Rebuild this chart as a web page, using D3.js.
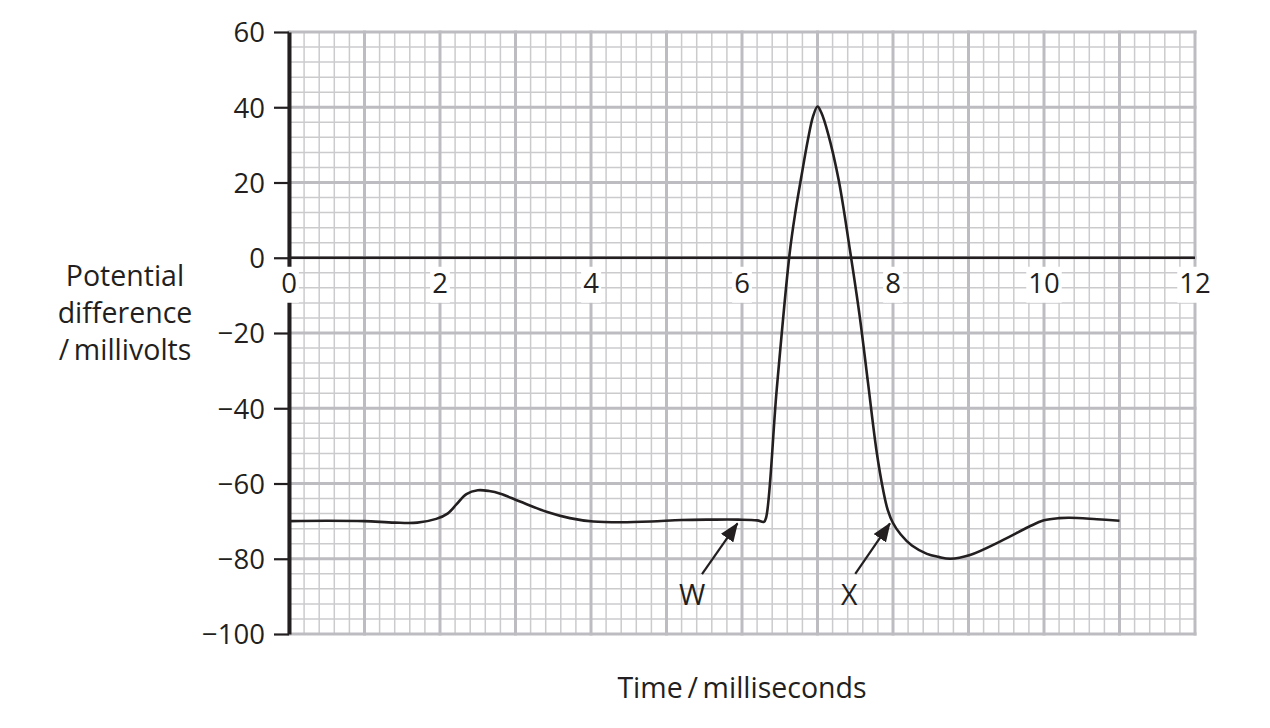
<!DOCTYPE html>
<html>
<head>
<meta charset="utf-8">
<script src="https://cdn.jsdelivr.net/npm/d3@7"></script>
<style>
  html, body { margin: 0; padding: 0; background: #fff; }
  svg { display: block; }
  text { font-family: "Open Sans", "Noto Sans", sans-serif; fill: #231f20; }
</style>
</head>
<body>
<svg id="chart" width="1270" height="728"></svg>
<script>
// ---- data ----
const timeMs = [0, 0.5, 1.0, 1.4, 1.7, 1.95, 2.1, 2.22, 2.35, 2.5, 2.65, 2.8, 3.06, 3.41, 3.72, 4.03, 4.4, 4.8, 5.2, 5.6, 5.95, 6.2, 6.29,
  6.32, 6.46, 6.63, 6.71, 6.79, 6.87, 6.94, 7.0, 7.05, 7.14, 7.28, 7.43, 7.56, 7.67, 7.78, 7.87, 7.93, 8.0, 8.1, 8.25, 8.45, 8.6, 8.76,
  9.02, 9.46, 9.8, 10.0, 10.2, 10.34, 10.7, 11.0];
const potentialMv = [-70, -69.9, -70, -70.4, -70.4, -69.4, -68, -65.5, -62.8, -61.8, -62, -62.7, -64.8, -67.5, -69.2, -70.1, -70.3, -70.1, -69.7, -69.6, -69.6, -69.8, -70.2,
  -69, -35, 1, 12.5, 22, 31, 37.5, 40.2, 38.6, 33, 20.7, 2, -15.7, -33.4, -51.1, -61.8, -67, -70.5, -73.5, -76.5, -78.7, -79.5, -80,
  -79, -75, -71.5, -69.8, -69.2, -69.1, -69.5, -69.9];

const xTickValues = [0, 2, 4, 6, 8, 10, 12];
const yTickValues = [60, 40, 20, 0, -20, -40, -60, -80, -100];
const yTitleLines = ["Potential", "difference", "/\u2009millivolts"];
const xTitle = "Time\u2009/\u2009milliseconds";

const annLabels = ["W", "X"];
const annTipT = [5.94, 7.96];
const annTipV = [-70.6, -70.6];
const annTailT = [5.47, 7.5];
const annTailV = [-84.1, -84.0];
const annLabelT = [5.34, 7.42];
const annLabelV = [-89.6, -89.6];

// ---- scales ----
const x = d3.scaleLinear().domain([0, 12]).range([289, 1195]);
const y = d3.scaleLinear().domain([-100, 60]).range([634, 32]);
const ink = "#231f20";
const fmt = d => d < 0 ? "\u2212" + Math.abs(d) : String(d);
const tickFont = 27.5;
const titleFont = 28.5;

const svg = d3.select("#chart");

// ---- grid ----
const minorX = d3.range(0, 60.5, 1).map(i => i / 5).filter(v => Math.abs(v - Math.round(v)) > 1e-6);
const majorX = d3.range(0, 13, 1);
const minorY = d3.range(-100, 61, 4).filter(v => v % 20 !== 0);
const majorY = d3.range(-100, 61, 20);

const grid = svg.append("g");
grid.selectAll("line.mx").data(minorX).join("line")
  .attr("x1", d => x(d)).attr("x2", d => x(d)).attr("y1", y(60)).attr("y2", y(-100))
  .attr("stroke", "#cbcbce").attr("stroke-width", 1.5);
grid.selectAll("line.my").data(minorY).join("line")
  .attr("y1", d => y(d)).attr("y2", d => y(d)).attr("x1", x(0)).attr("x2", x(12))
  .attr("stroke", "#cbcbce").attr("stroke-width", 1.5);
grid.selectAll("line.Mx").data(majorX).join("line")
  .attr("x1", d => x(d)).attr("x2", d => x(d)).attr("y1", y(60) - 1.5).attr("y2", y(-100) + 1.5)
  .attr("stroke", "#bdbdc1").attr("stroke-width", 3);
grid.selectAll("line.My").data(majorY).join("line")
  .attr("y1", d => y(d)).attr("y2", d => y(d)).attr("x1", x(0)).attr("x2", x(12) + 1.5)
  .attr("stroke", "#bdbdc1").attr("stroke-width", 3);

// ---- x axis line at 0 mV ----
svg.append("line")
  .attr("x1", x(0)).attr("x2", x(12)).attr("y1", y(0)).attr("y2", y(0))
  .attr("stroke", ink).attr("stroke-width", 2.4);

// ---- curve ----
const pts = timeMs.map((t, i) => [t, potentialMv[i]]);
svg.append("path")
  .datum(pts)
  .attr("fill", "none")
  .attr("stroke", ink)
  .attr("stroke-width", 2.6)
  .attr("stroke-linejoin", "round")
  .attr("d", d3.line().x(d => x(d[0])).y(d => y(d[1])).curve(d3.curveCatmullRom.alpha(0.5)));

// ---- y axis ----
const yAxis = d3.axisLeft(y).tickValues(yTickValues).tickSize(15).tickSizeOuter(0).tickPadding(9).tickFormat(fmt);
const yg = svg.append("g").attr("transform", `translate(${x(0)},0)`).call(yAxis);
yg.select(".domain").attr("stroke", ink).attr("stroke-width", 4);
yg.selectAll(".tick line").attr("stroke", ink).attr("stroke-width", 2.2);
yg.selectAll(".tick text").attr("font-size", tickFont).attr("font-family", "'Open Sans', sans-serif").attr("fill", ink).attr("dy", "0.36em");

// ---- x tick labels (white knock-out background) ----
const xl = svg.append("g");
const xt = xl.selectAll("g").data(xTickValues).join("g")
  .attr("transform", d => `translate(${x(d)},${y(0) + 35})`);
xt.append("rect").attr("fill", "#fff");
xt.append("text").attr("text-anchor", "middle").attr("font-size", tickFont).text(fmt);
xt.each(function () {
  const g = d3.select(this);
  const b = g.select("text").node().getBBox();
  g.select("rect").attr("x", b.x - 2).attr("y", b.y + 3).attr("width", b.width + 4).attr("height", b.height - 1);
});

// ---- axis titles ----
svg.append("g").selectAll("text").data(yTitleLines).join("text")
  .attr("x", 125).attr("y", (d, i) => 286 + i * 37)
  .attr("text-anchor", "middle").attr("font-size", titleFont).text(d => d);
svg.append("text").attr("x", (x(0) + x(12)) / 2).attr("y", 698)
  .attr("text-anchor", "middle").attr("font-size", titleFont).text(xTitle);

// ---- annotations ----
svg.append("defs").append("marker")
  .attr("id", "ah").attr("markerUnits", "userSpaceOnUse")
  .attr("viewBox", "0 0 19 15").attr("refX", 18).attr("refY", 7.5)
  .attr("markerWidth", 19).attr("markerHeight", 15).attr("orient", "auto")
  .append("path").attr("d", "M0,0 L19,7.5 L0,15 Z").attr("fill", ink);

const ann = svg.append("g");
ann.selectAll("line").data(annLabels).join("line")
  .attr("x1", (d, i) => x(annTailT[i])).attr("y1", (d, i) => y(annTailV[i]))
  .attr("x2", (d, i) => x(annTipT[i])).attr("y2", (d, i) => y(annTipV[i]))
  .attr("stroke", ink).attr("stroke-width", 2.2).attr("marker-end", "url(#ah)");
ann.selectAll("text").data(annLabels).join("text")
  .attr("x", (d, i) => x(annLabelT[i])).attr("y", (d, i) => y(annLabelV[i]))
  .attr("dy", "0.36em").attr("text-anchor", "middle").attr("font-size", titleFont).text(d => d);
</script>
</body>
</html>
